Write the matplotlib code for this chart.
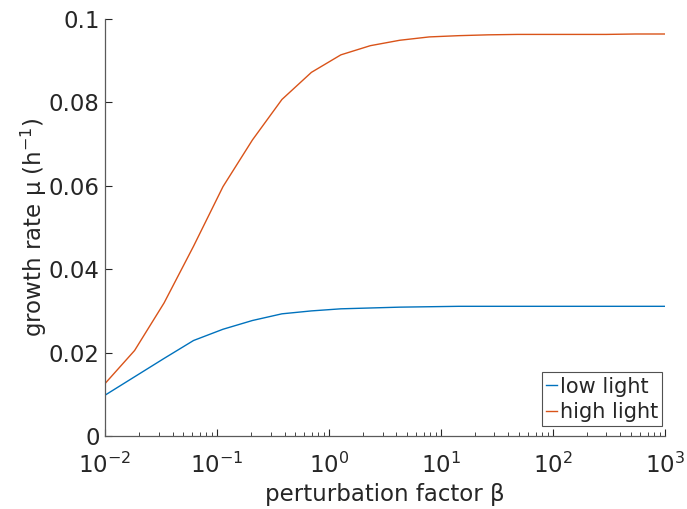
import numpy as np
import matplotlib
matplotlib.use('Agg')
import matplotlib.pyplot as plt
from matplotlib.ticker import LogLocator, FixedLocator

# perturbation factor beta, 20 log-spaced points from 1e-2 to 1e3
beta = np.logspace(-2, 3, 20)

# growth rates (h^-1)
mu_low = [0.0098, 0.0142, 0.0186, 0.0229, 0.0256, 0.0277, 0.0293, 0.0300,
          0.0305, 0.0307, 0.0309, 0.0310, 0.0311, 0.0311, 0.0311, 0.0311,
          0.0311, 0.0311, 0.0311, 0.0311]
mu_high = [0.0126, 0.0205, 0.0319, 0.0455, 0.0598, 0.0710, 0.0807, 0.0872,
           0.0914, 0.0936, 0.0949, 0.0957, 0.0960, 0.0962, 0.0963, 0.0963,
           0.0963, 0.0963, 0.0964, 0.0964]

txt = '#262626'
plt.rcParams['font.family'] = 'DejaVu Sans'
plt.rcParams['mathtext.fontset'] = 'dejavusans'
plt.rcParams['axes.unicode_minus'] = False

fig = plt.figure(figsize=(6.87, 5.09), dpi=100)
ax = fig.add_axes([0.153, 0.1434, 0.815, 0.8193])

ax.plot(beta, mu_low, color='#0072BD', lw=1.0, label='low light')
ax.plot(beta, mu_high, color='#D95319', lw=1.0, label='high light')

ax.set_xscale('log')
ax.set_xlim(1e-2, 1e3)
ax.set_ylim(0, 0.1)
ax.set_yticks([0, 0.02, 0.04, 0.06, 0.08, 0.1])
ax.set_yticklabels(['0', '0.02', '0.04', '0.06', '0.08', '0.1'])
ax.xaxis.set_major_locator(LogLocator(base=10, numticks=10))
minors = [m * 10.0 ** e for e in range(-2, 3) for m in range(2, 10)]
ax.xaxis.set_minor_locator(FixedLocator(minors))

for s in ['top', 'right']:
    ax.spines[s].set_visible(False)
for s in ['left', 'bottom']:
    ax.spines[s].set_color('#5a5a5a')
    ax.spines[s].set_linewidth(0.9)

ax.tick_params(which='major', direction='in', length=5, width=0.8, color=txt,
               labelsize=16.5, labelcolor=txt, pad=4)
ax.tick_params(axis='x', which='major', pad=12)
ax.tick_params(which='minor', direction='in', length=3, width=0.6, color=txt)

ax.set_xlabel('perturbation factor β', fontsize=16.5, color=txt, labelpad=4)
ax.set_ylabel('growth rate μ (h$^{-1}$)', fontsize=16.5, color=txt, labelpad=0)

leg = ax.legend(loc='lower right', bbox_to_anchor=(0.995, 0.024),
                fontsize=15, frameon=True, fancybox=False,
                handlelength=0.5, handletextpad=0.15, borderpad=0.2,
                labelspacing=0.25, borderaxespad=0)
leg.get_frame().set_edgecolor(txt)
leg.get_frame().set_linewidth(0.8)
for t in leg.get_texts():
    t.set_color(txt)

fig.savefig('out.png', dpi=100)
